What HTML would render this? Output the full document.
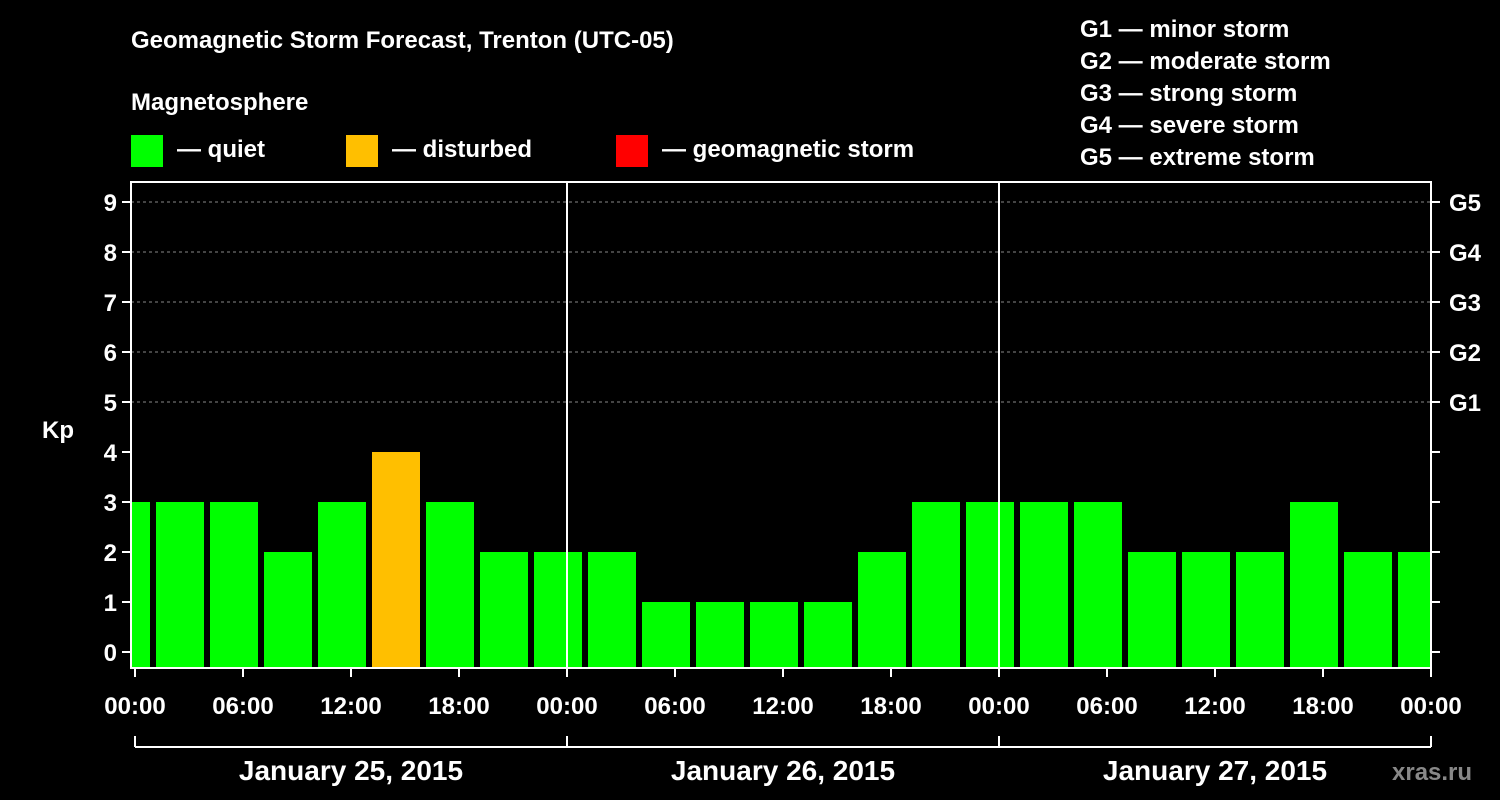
<!DOCTYPE html>
<html><head><meta charset="utf-8"><style>
body{margin:0;background:#000;}
svg{display:block;font-family:"Liberation Sans",Arial,sans-serif;font-weight:bold;}
</style></head><body>
<svg id="chart" width="1500" height="800" viewBox="0 0 1500 800">
<rect width="1500" height="800" fill="#000"/>
<text x="131" y="48" fill="#fff" font-size="24">Geomagnetic Storm Forecast, Trenton (UTC-05)</text>
<text x="131" y="110" fill="#fff" font-size="24">Magnetosphere</text>
<g><rect x="131" y="135" width="32" height="32" fill="#00ff00"/><text x="177" y="157" fill="#fff" font-size="24">— quiet</text></g>
<g><rect x="346" y="135" width="32" height="32" fill="#ffbf00"/><text x="392" y="157" fill="#fff" font-size="24">— disturbed</text></g>
<g><rect x="616" y="135" width="32" height="32" fill="#ff0000"/><text x="662" y="157" fill="#fff" font-size="24">— geomagnetic storm</text></g>
<g fill="#fff" font-size="24">
<text x="1080" y="37">G1 — minor storm</text>
<text x="1080" y="69">G2 — moderate storm</text>
<text x="1080" y="101">G3 — strong storm</text>
<text x="1080" y="133">G4 — severe storm</text>
<text x="1080" y="165">G5 — extreme storm</text>
</g>
<text x="42" y="438" fill="#fff" font-size="24">Kp</text>
<text x="1392" y="780" fill="#888" font-size="24">xras.ru</text>
<defs><clipPath id="pc"><rect x="131" y="182" width="1300" height="486"/></clipPath></defs>
<g id="grid"></g>
<g id="bars" clip-path="url(#pc)"></g>
<g id="axes"></g>
</svg>
<script>
const kpValues=[3,3,3,2,3,4,3,2,2,2,1,1,1,1,2,3,3,3,3,2,2,2,3,2,2];
const kpTicks=[0,1,2,3,4,5,6,7,8,9];
const gLabels=["G1","G2","G3","G4","G5"];
const timeLabels=["00:00","06:00","12:00","18:00","00:00","06:00","12:00","18:00","00:00","06:00","12:00","18:00","00:00"];
const dayLabels=["January 25, 2015","January 26, 2015","January 27, 2015"];
const NS="http://www.w3.org/2000/svg";
const X0=135,PX_H=18,L=131,R=1431,T=182,B=668;
const xH=h=>X0+h*PX_H;
const yK=k=>652-50*k;
function mk(tag,attrs,parent){const e=document.createElementNS(NS,tag);for(const k in attrs)e.setAttribute(k,attrs[k]);parent.appendChild(e);return e;}
const grid=document.getElementById('grid'),bars=document.getElementById('bars'),axes=document.getElementById('axes');
for(let k=5;k<=9;k++){const l=mk('line',{x1:L,x2:R,y1:yK(k),y2:yK(k),stroke:'#888','stroke-dasharray':'3,3','stroke-width':1},grid);

}
kpValues.forEach((v,i)=>{const c=xH(3*i-0.5);const col=v>=5?'#ff0000':(v>=4?'#ffbf00':'#00ff00');
const r=mk('rect',{x:c-24,width:48,y:yK(v),height:B-yK(v),fill:col},bars);

});
mk('rect',{x:L,y:T,width:R-L,height:B-T,fill:'none',stroke:'#fff','stroke-width':2},axes);
[1,2].forEach(d=>{const l=mk('line',{x1:xH(24*d),x2:xH(24*d),y1:T,y2:B,stroke:'#fff','stroke-width':2},axes);

});
kpTicks.forEach(k=>{mk('line',{x1:L-9,x2:L,y1:yK(k),y2:yK(k),stroke:'#fff','stroke-width':2},axes);
mk('line',{x1:R,x2:R+9,y1:yK(k),y2:yK(k),stroke:'#fff','stroke-width':2},axes);
const t=mk('text',{x:L-14,y:yK(k)+9,'text-anchor':'end',fill:'#fff','font-size':24},axes);t.textContent=k;

});
gLabels.forEach((g,i)=>{const t=mk('text',{x:R+18,y:yK(5+i)+9,fill:'#fff','font-size':24},axes);t.textContent=g;

});
timeLabels.forEach((s,i)=>{const x=xH(6*i);mk('line',{x1:x,x2:x,y1:B,y2:B+9,stroke:'#fff','stroke-width':2},axes);
const t=mk('text',{x:x,y:714,'text-anchor':'middle',fill:'#fff','font-size':24},axes);t.textContent=s;

});
mk('line',{x1:xH(0),x2:xH(72),y1:747,y2:747,stroke:'#fff','stroke-width':2},axes);
for(let d=0;d<=3;d++)mk('line',{x1:xH(24*d),x2:xH(24*d),y1:736,y2:747,stroke:'#fff','stroke-width':2},axes);
dayLabels.forEach((s,i)=>{const t=mk('text',{x:xH(24*i+12),y:780,'text-anchor':'middle',fill:'#fff','font-size':28},axes);t.textContent=s;

});
</script>
</body></html>
